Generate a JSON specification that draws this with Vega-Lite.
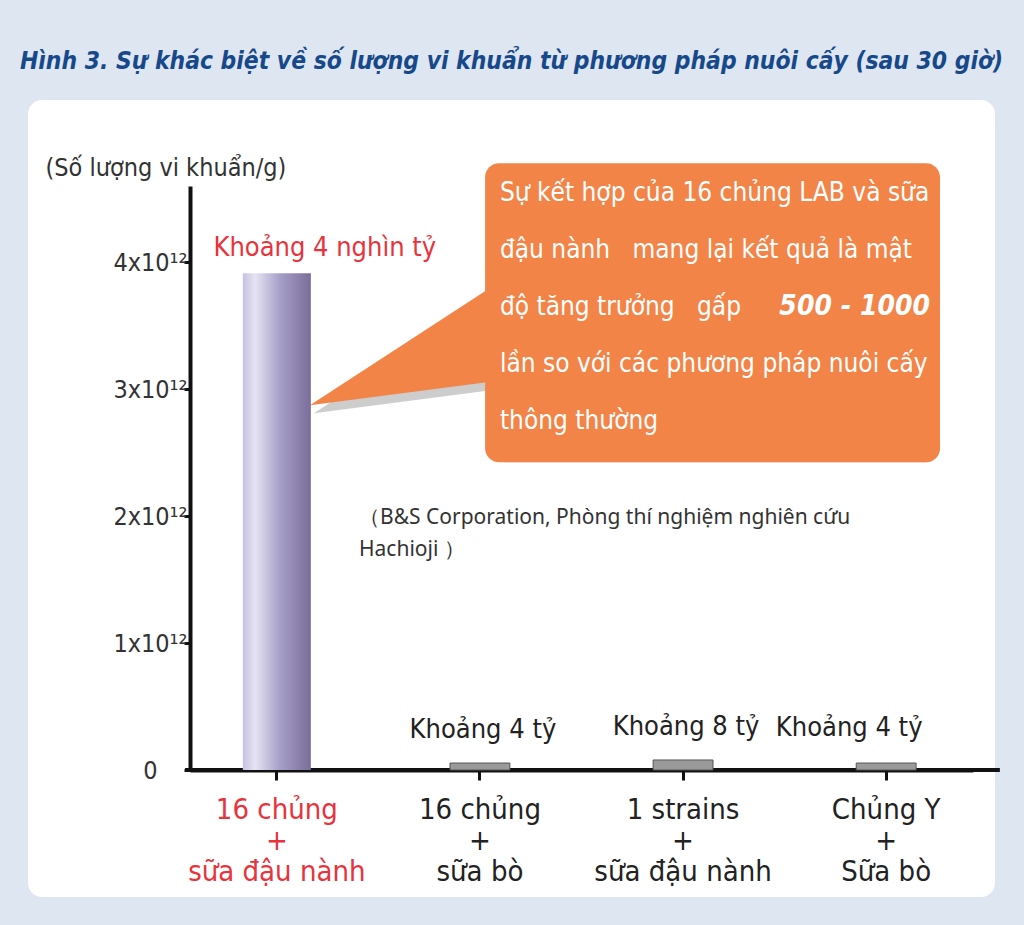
{
  "$schema": "https://vega.github.io/schema/vega-lite/v6.json",
  "width": 967,
  "height": 797,
  "autosize": "none",
  "padding": {"left": 28, "top": 100, "right": 29, "bottom": 28},
  "background": "#dee6f2",
  "title": {
    "text": "Hình 3. Sự khác biệt về số lượng vi khuẩn từ phương pháp nuôi cấy (sau 30 giờ)",
    "color": "#17498a",
    "font": "DejaVu Sans Condensed, Roboto",
    "fontSize": 24.4,
    "fontStyle": "italic",
    "fontWeight": "bold",
    "anchor": "middle",
    "offset": 26
  },
  "datasets": {
    "bars": [
      {"group": "16 chủng + sữa đậu nành", "value": 3.913, "label": "Khoảng 4 nghìn tỷ"},
      {"group": "16 chủng + sữa bò", "value": 0.055, "label": "Khoảng 4 tỷ"},
      {"group": "1 strains + sữa đậu nành", "value": 0.079, "label": "Khoảng 8 tỷ"},
      {"group": "Chủng Y + Sữa bò", "value": 0.055, "label": "Khoảng 4 tỷ"}
    ],
    "notes": [
      {"callout": "Sự kết hợp của 16 chủng LAB và sữa đậu nành mang lại kết quả là mật độ tăng trưởng gấp 500 - 1000 lần so với các phương pháp nuôi cấy thông thường",
       "source": "（B&S Corporation, Phòng thí nghiệm nghiên cứu Hachioji ）"}
    ]
  },
  "layer": [
    {
      "data": {"name": "notes"},
      "layer": [
        {
          "mark": {"type": "rule", "color": "#111111", "strokeWidth": 4},
          "encoding": {
            "x": {"datum": -0.453, "type": "quantitative", "scale": {"domain": [-0.4286, 3.4286], "range": [162, 945], "nice": false, "zero": false}, "axis": null},
            "x2": {"datum": 3.561},
            "y": {"datum": 0, "type": "quantitative"}
          }
        },
        {
          "mark": {"type": "rect", "color": "#6f6f6f", "opacity": 0.4, "cornerRadius": 14, "xOffset": 6, "yOffset": 8},
          "encoding": {
            "x": {"datum": 1.025, "type": "quantitative"},
            "x2": {"datum": 3.266},
            "y": {"datum": 4.78, "type": "quantitative"},
            "y2": {"datum": 2.425}
          }
        },
        {
          "mark": {"type": "point", "shape": "M-1,0.65L1,-0.65L1,0.39Z", "size": 31329, "filled": true, "color": "#6f6f6f", "opacity": 0.35, "strokeWidth": 0, "xOffset": 4, "yOffset": 8},
          "encoding": {
            "x": {"datum": 0.598, "type": "quantitative"},
            "y": {"datum": 3.327, "type": "quantitative"}
          }
        },
        {
          "mark": {"type": "point", "shape": "M-1,0.65L1,-0.65L1,0.39Z", "size": 31329, "filled": true, "color": "#f28448", "opacity": 1, "strokeWidth": 0},
          "encoding": {
            "x": {"datum": 0.598, "type": "quantitative"},
            "y": {"datum": 3.327, "type": "quantitative"}
          }
        },
        {
          "mark": {"type": "rect", "color": "#f28448", "cornerRadius": 14},
          "encoding": {
            "x": {"datum": 1.025, "type": "quantitative"},
            "x2": {"datum": 3.266},
            "y": {"datum": 4.78, "type": "quantitative"},
            "y2": {"datum": 2.425}
          }
        },
        {
          "mark": {"type": "text", "align": "left", "baseline": "middle", "color": "white", "fontSize": 26, "lineHeight": 57, "font": "DejaVu Sans Condensed, Roboto"},
          "encoding": {
            "x": {"datum": 1.098, "type": "quantitative"},
            "y": {"datum": 4.543, "type": "quantitative"},
            "text": {"value": ["Sự kết hợp của 16 chủng LAB và sữa", "đậu nành\u00a0\u00a0 mang lại kết quả là mật", "độ tăng trưởng\u00a0\u00a0 gấp", "lần so với các phương pháp nuôi cấy", "thông thường"]}
          }
        },
        {
          "mark": {"type": "text", "align": "right", "baseline": "middle", "color": "white", "fontSize": 28, "fontWeight": "bold", "fontStyle": "italic", "font": "DejaVu Sans Condensed, Roboto"},
          "encoding": {
            "x": {"datum": 3.217, "type": "quantitative"},
            "y": {"datum": 3.646, "type": "quantitative"},
            "text": {"value": "500 - 1000"}
          }
        },
        {
          "mark": {"type": "text", "align": "left", "baseline": "middle", "color": "#333333", "fontSize": 21, "lineHeight": 32, "font": "Noto Sans"},
          "encoding": {
            "x": {"datum": 0.404, "type": "quantitative"},
            "y": {"datum": 1.984, "type": "quantitative"},
            "text": {"value": ["（B&S Corporation, Phòng thí nghiệm nghiên cứu", "Hachioji ）"]}
          }
        }
      ]
    },
    {
      "data": {"name": "bars"},
      "layer": [
        {
          "transform": [{"filter": "datum.group == '16 chủng + sữa đậu nành'"}],
          "mark": {
            "type": "bar",
            "color": {
              "gradient": "linear", "x1": 0, "x2": 1, "y1": 0, "y2": 0,
              "stops": [
                {"offset": 0, "color": "#c6c1df"},
                {"offset": 0.18, "color": "#e6e4f3"},
                {"offset": 0.55, "color": "#a59ec8"},
                {"offset": 1, "color": "#7a6d9a"}
              ]
            }
          },
          "encoding": {
            "x": {
              "field": "group", "type": "nominal",
              "scale": {
                "domain": ["16 chủng + sữa đậu nành", "16 chủng + sữa bò", "1 strains + sữa đậu nành", "Chủng Y + Sữa bò"],
                "range": [162, 945], "paddingInner": 0.665, "paddingOuter": 0.26
              },
              "axis": {
                "title": null,
                "orient": "bottom",
                "offset": -127,
                "domainColor": "#111111",
                "domainWidth": 4,
                "tickColor": "#111111",
                "tickWidth": 3,
                "tickSize": 10,
                "labelAngle": 0,
                "labelFont": "DejaVu Sans Condensed, Roboto",
                "labelFontSize": 29,
                "labelLineHeight": 31,
                "labelPadding": 15,
                "labelBaseline": "top",
                "labelColor": {"condition": {"test": "datum.value == '16 chủng + sữa đậu nành'", "value": "#e8323c"}, "value": "#222222"},
                "labelExpr": "[split(datum.label, ' + ')[0], '+', split(datum.label, ' + ')[1]]"
              }
            },
            "y": {
              "field": "value", "type": "quantitative",
              "scale": {"domain": [0, 4.6], "range": [670, 86], "nice": false},
              "axis": {
                "values": [0, 1, 2, 3, 4],
                "offset": -162,
                "grid": false,
                "domainColor": "#111111",
                "domainWidth": 4,
                "tickColor": "#111111",
                "tickWidth": 3,
                "tickSize": 6,
                "labelAlign": "center",
                "labelPadding": 34,
                "labelFontSize": 25,
                "labelColor": "#333333",
                "labelFont": "DejaVu Sans Condensed, Roboto",
                "labelExpr": "datum.value == 0 ? '0' : datum.value + 'x10¹²'",
                "title": "(Số lượng vi khuẩn/g)",
                "titleAngle": 0,
                "titleAlign": "left",
                "titleBaseline": "middle",
                "titleX": -145,
                "titleY": 67,
                "titleFontSize": 25,
                "titleFontWeight": "normal",
                "titleColor": "#333333",
                "titleFont": "DejaVu Sans Condensed, Roboto"
              }
            }
          }
        },
        {
          "transform": [{"filter": "datum.group != '16 chủng + sữa đậu nành'"}],
          "mark": {"type": "bar", "color": "#9a9a9a", "stroke": "#555555", "strokeWidth": 1, "width": {"band": 0.88}},
          "encoding": {
            "x": {"field": "group", "type": "nominal"},
            "y": {"field": "value", "type": "quantitative"}
          }
        },
        {
          "transform": [{"filter": "datum.group == '16 chủng + sữa đậu nành'"}],
          "mark": {"type": "text", "baseline": "bottom", "dy": -11, "dx": 48, "fontSize": 27, "color": "#e8323c", "font": "DejaVu Sans Condensed, Roboto"},
          "encoding": {
            "x": {"field": "group", "type": "nominal"},
            "y": {"field": "value", "type": "quantitative"},
            "text": {"field": "label"}
          }
        },
        {
          "transform": [{"filter": "datum.group == '16 chủng + sữa bò' || datum.group == '1 strains + sữa đậu nành'"}],
          "mark": {"type": "text", "baseline": "bottom", "dy": -19, "dx": 3, "fontSize": 27, "color": "#222222", "font": "DejaVu Sans Condensed, Roboto"},
          "encoding": {
            "x": {"field": "group", "type": "nominal"},
            "y": {"field": "value", "type": "quantitative"},
            "text": {"field": "label"}
          }
        },
        {
          "transform": [{"filter": "datum.group == 'Chủng Y + Sữa bò'"}],
          "mark": {"type": "text", "baseline": "bottom", "dy": -21, "dx": -37, "fontSize": 27, "color": "#222222", "font": "DejaVu Sans Condensed, Roboto"},
          "encoding": {
            "x": {"field": "group", "type": "nominal"},
            "y": {"field": "value", "type": "quantitative"},
            "text": {"field": "label"}
          }
        }
      ]
    }
  ],
  "resolve": {"scale": {"x": "independent"}},
  "config": {
    "view": {"fill": "white", "stroke": null, "cornerRadius": 14}
  }
}
